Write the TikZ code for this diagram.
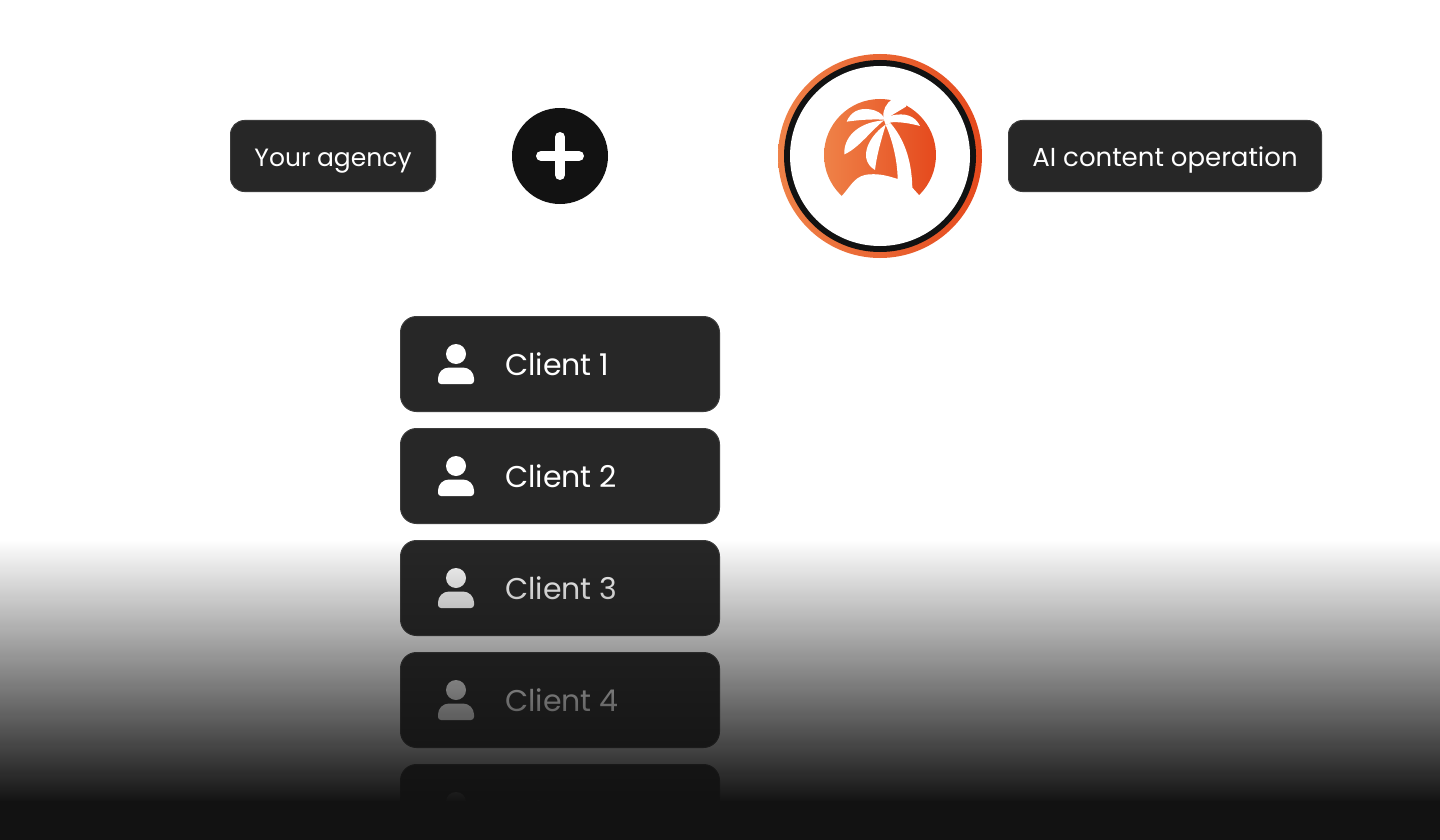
\documentclass[tikz,border=0pt]{standalone}
\usepackage{fontspec}
\setmainfont{Poppins}
\usetikzlibrary{fadings}
\definecolor{ink}{HTML}{121212}
\definecolor{cardfill}{HTML}{272727}
\definecolor{cardline}{HTML}{3C3C3C}
\definecolor{orangeL}{HTML}{EF8248}
\definecolor{orangeR}{HTML}{E5491D}
\tikzfading[name=fade down, top color=transparent!100, bottom color=transparent!0]
\tikzset{
  tag/.style={draw=cardline, line width=1pt, fill=cardfill, rounded corners=14pt,
    minimum height=71pt, inner sep=0pt, outer sep=0pt},
  card/.style={draw=cardline, line width=1pt, fill=cardfill, rounded corners=16pt,
    minimum width=319pt, minimum height=95pt, inner sep=0pt, outer sep=0pt},
  tagtext/.style={text=white, inner sep=0pt, anchor=base},
  cardtext/.style={text=white, font=\fontsize{30}{34}\selectfont, inner sep=0pt, anchor=base west},
  head/.style={circle, fill=white, minimum size=20pt, inner sep=0pt, outer sep=0pt},
  orangegrad/.style={left color=orangeL, right color=orangeR},
}
\newcommand{\clientcard}[2]{%
  \node[card] (card#1) at (560,#2) {};
  \node[head] (head#1) at (456,#2-10) {};
  \fill[white] (438,#2+20) [rounded corners=3pt] -- (474,#2+20) [rounded corners=11pt] -- (474,#2+3.5)
    -- (438,#2+3.5) [rounded corners=3pt] -- cycle;
  \node[cardtext] (label#1) at (505,#2+11.5) {Client #1};
}
\begin{document}
\begin{tikzpicture}[x=1pt,y=-1pt]
\useasboundingbox (0,0) rectangle (1440,840);
\fill[white] (-5,-5) rectangle (1445,845);

% top row
\node[tag, minimum width=205pt] (agency) at (333,156) {};
\node[tagtext, font=\fontsize{25}{30}\selectfont] (agencytext) at (333,166) {Your agency};
\node[circle, fill=ink, minimum size=96pt, inner sep=0pt] (plus) at (560,156) {};
\draw[white, line width=10pt, line cap=round] (541,156) -- (579,156) (560,137) -- (560,175);
\node[tag, minimum width=313pt] (operation) at (1165,156) {};
\node[tagtext, font=\fontsize{26}{30}\selectfont] (operationtext) at (1165,166) {AI content operation};

% logo ring
\node[circle, orangegrad, minimum size=204pt, inner sep=0pt] (ringout) at (880,156) {};
\node[circle, fill=ink, minimum size=192pt, inner sep=0pt] (ringmid) at (880,156) {};
\node[circle, fill=white, minimum size=180pt, inner sep=0pt] (ringin) at (880,156) {};

% palm, zoomed coordinates
\begin{scope}[shift={(820,95)}, x=0.3333pt, y=-0.3333pt]
  \shade[orangegrad] (180,180) circle[radius=168];
  \fill[white] (68,300) .. controls (95,270) and (105,240) .. (150,238)
    .. controls (180,236) and (205,243) .. (233,252)
    .. controls (232,190) and (215,130) .. (197,90) -- (212,85)
    .. controls (250,130) and (275,190) .. (277,278) -- (295,298) -- (345,355) -- (10,355) -- cycle;
  \fill[white] (190,68) .. controls (188,45) and (198,25) .. (218,12) -- (245,0) -- (262,8)
    -- (258,35) -- (213,62) -- (212,85) -- (197,90) -- cycle;
  \fill[white] (213,62) .. controls (255,52) and (285,62) .. (300,93)
    .. controls (270,85) and (240,80) .. (212,82) -- cycle;
  \fill[white] (80,80) .. controls (92,50) and (118,38) .. (150,43)
    .. controls (170,46) and (185,55) .. (192,68) -- (192,74) .. controls (150,72) and (115,75) .. (80,80) -- cycle;
  \fill[white] (73,178) .. controls (70,130) and (110,82) .. (192,76)
    .. controls (150,110) and (115,160) .. (73,178) -- cycle;
  \fill[white] (195,90) .. controls (140,130) and (115,195) .. (165,225)
    .. controls (170,180) and (185,130) .. (197,90) -- cycle;
\end{scope}

% clients
\clientcard{1}{364}
\clientcard{2}{476}
\clientcard{3}{588}
\clientcard{4}{700}
\clientcard{5}{812}

% dark fade over everything
\fill[ink, path fading=fade down] (-5,540) rectangle (1445,803);
\fill[ink] (-5,801) rectangle (1445,845);
\end{tikzpicture}
\end{document}
